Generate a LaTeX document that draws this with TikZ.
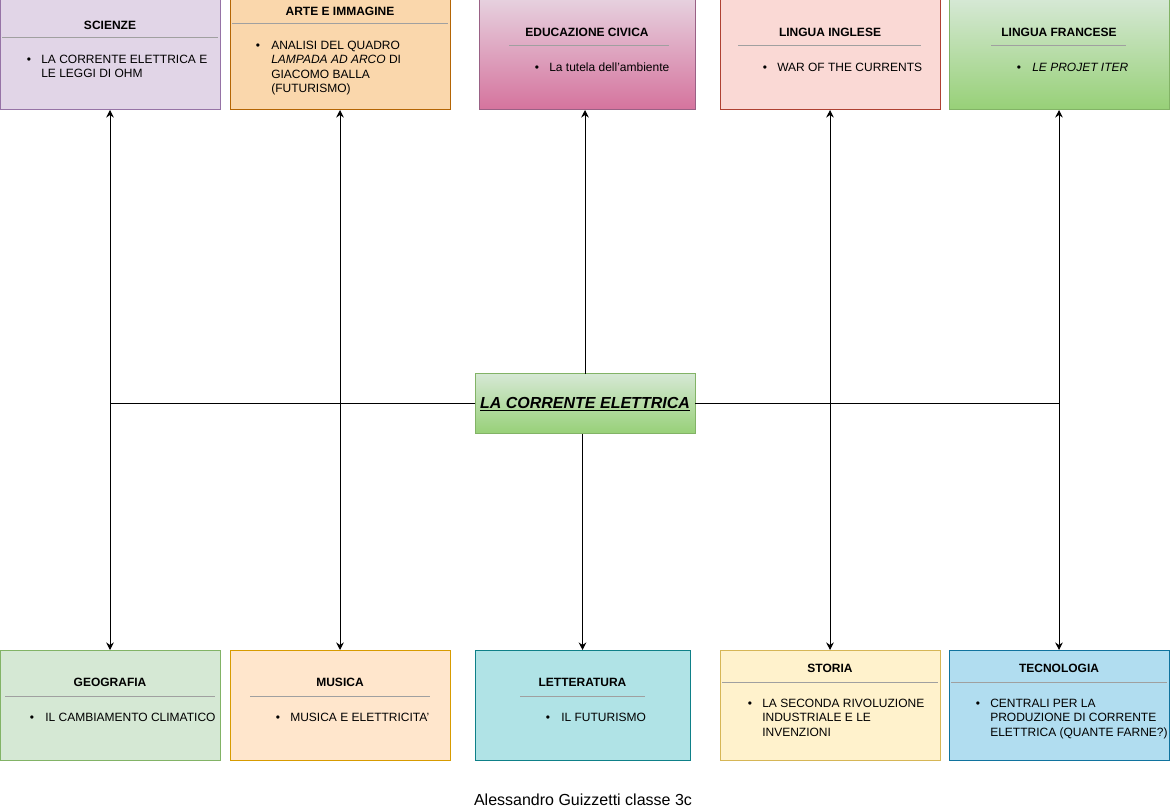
\documentclass[tikz,border=0pt]{standalone}
\usepackage{fontspec}
\setmainfont{Liberation Sans}
\usetikzlibrary{arrows.meta}
\definecolor{sciF}{HTML}{E1D5E7}\definecolor{sciD}{HTML}{9673A6}
\definecolor{artF}{HTML}{FAD7AC}\definecolor{artD}{HTML}{B46504}
\definecolor{eduT}{HTML}{E6D0DE}\definecolor{eduB}{HTML}{D5739D}\definecolor{eduD}{HTML}{996185}
\definecolor{ingF}{HTML}{FAD9D5}\definecolor{ingD}{HTML}{AE4132}
\definecolor{grT}{HTML}{D5E8D4}\definecolor{grB}{HTML}{97D077}\definecolor{grD}{HTML}{82B366}
\definecolor{musF}{HTML}{FFE6CC}\definecolor{musD}{HTML}{D79B00}
\definecolor{letF}{HTML}{B0E3E6}\definecolor{letD}{HTML}{0E8088}
\definecolor{stoF}{HTML}{FFF2CC}\definecolor{stoD}{HTML}{D6B656}
\definecolor{tecF}{HTML}{B1DDF0}\definecolor{tecD}{HTML}{10739E}
\definecolor{ruleC}{HTML}{A0A0A0}
\tikzset{
  box/.style={draw, line width=0.75pt, minimum width=165pt, minimum height=82.5pt, inner sep=0pt, outer sep=0pt},
  hd/.style={font=\bfseries\fontsize{9}{10.9}\selectfont, anchor=base, inner sep=0pt, yshift=-1.1pt},
  tx/.style={font=\fontsize{9}{10.9}\selectfont, anchor=base west, inner sep=0pt, yshift=-1.1pt},
  bl/.style={font=\fontsize{9}{10.9}\selectfont, anchor=base, inner sep=0pt, yshift=-1.1pt},
  hrule/.style={draw=ruleC, line width=0.75pt},
  arr/.style={draw=black, line width=0.75pt, -{Stealth[length=5.6pt,width=5.6pt,inset=1.8pt]}}
}
\begin{document}
\begin{tikzpicture}[x=0.75pt,y=-0.75pt]
\useasboundingbox (0,0) rectangle (1170,812);
% top row boxes
\node[box, fill=sciF, draw=sciD] (sci) at (110,55) {};
\node[box, fill=artF, draw=artD] (arte) at (340,55) {};
\node[box, top color=eduT, bottom color=eduB, draw=eduD, minimum width=162pt] (edu) at (587,55) {};
\node[box, fill=ingF, draw=ingD] (ing) at (830,55) {};
\node[box, top color=grT, bottom color=grB, draw=grD] (fra) at (1059,55) {};
% bottom row boxes
\node[box, fill=grT, draw=grD] (geo) at (110,705) {};
\node[box, fill=musF, draw=musD] (mus) at (340,705) {};
\node[box, fill=letF, draw=letD, minimum width=161.25pt] (lett) at (582.5,705) {};
\node[box, fill=stoF, draw=stoD] (sto) at (830,705) {};
\node[box, fill=tecF, draw=tecD] (tec) at (1059,705) {};
% centre
\node[box, top color=grT, bottom color=grB, draw=grD, minimum height=45pt] (c) at (585,404)
  {\bfseries\itshape\fontsize{12}{14}\selectfont\underline{LA CORRENTE ELETTRICA}};

% SCIENZE
\node[hd] (sciH) at (110,28) {SCIENZE};
\draw[hrule] (2,38) -- (218,38);
\node[bl] (sciB) at (29,62) {•};
\node[tx] (sci1) at (41,62) {LA CORRENTE ELETTRICA E};
\node[tx] (sci2) at (41,76.5) {LE LEGGI DI OHM};
% ARTE
\node[hd] (arteH) at (340,14.5) {ARTE E IMMAGINE};
\draw[hrule] (232,24) -- (448,24);
\node[bl] (arteB) at (258,48) {•};
\node[tx] (arte1) at (271,48) {ANALISI DEL QUADRO};
\node[tx] (arte2) at (271,62.5) {\itshape LAMPADA AD ARCO\upshape\ DI};
\node[tx] (arte3) at (271,77) {GIACOMO BALLA};
\node[tx] (arte4) at (271,91.5) {(FUTURISMO)};
% EDU
\node[hd] (eduH) at (587,35.5) {EDUCAZIONE CIVICA};
\draw[hrule] (509,46) -- (669,46);
\node[bl] (eduB1) at (537,70.5) {•};
\node[tx] (edu1) at (549,70.5) {La tutela dell'ambiente};
% INGLESE
\node[hd] (ingH) at (830,35.5) {LINGUA INGLESE};
\draw[hrule] (738,46) -- (921,46);
\node[bl] (ingB1) at (765,70.5) {•};
\node[tx] (ing1) at (777,70.5) {WAR OF THE CURRENTS};
% FRANCESE
\node[hd] (fraH) at (1059,35.5) {LINGUA FRANCESE};
\draw[hrule] (991,46) -- (1126,46);
\node[bl] (fraB1) at (1019,70.5) {•};
\node[tx] (fra1) at (1032,70.5) {\itshape LE PROJET ITER};
% GEOGRAFIA
\node[hd] (geoH) at (110,685.5) {GEOGRAFIA};
\draw[hrule] (5,696) -- (215,696);
\node[bl] (geoB1) at (32,720.5) {•};
\node[tx] (geo1) at (45,720.5) {IL CAMBIAMENTO CLIMATICO};
% MUSICA
\node[hd] (musH) at (340,685.5) {MUSICA};
\draw[hrule] (250,696) -- (430,696);
\node[bl] (musB1) at (278,720.5) {•};
\node[tx] (mus1) at (290,720.5) {MUSICA E ELETTRICITA'};
% LETTERATURA
\node[hd] (letH) at (582.5,685.5) {LETTERATURA};
\draw[hrule] (520,696) -- (645,696);
\node[bl] (letB1) at (548,720.5) {•};
\node[tx] (let1) at (561,720.5) {IL FUTURISMO};
% STORIA
\node[hd] (stoH) at (830,671.5) {STORIA};
\draw[hrule] (722,682) -- (938,682);
\node[bl] (stoB1) at (750,706) {•};
\node[tx] (sto1) at (762,706) {LA SECONDA RIVOLUZIONE};
\node[tx] (sto2) at (762,720.5) {INDUSTRIALE E LE};
\node[tx] (sto3) at (762,735) {INVENZIONI};
% TECNOLOGIA
\node[hd] (tecH) at (1059,671.5) {TECNOLOGIA};
\draw[hrule] (951,682) -- (1167,682);
\node[bl] (tecB1) at (978,706) {•};
\node[tx] (tec1) at (990,706) {CENTRALI PER LA};
\node[tx] (tec2) at (990,720.5) {PRODUZIONE DI CORRENTE};
\node[tx] (tec3) at (990,735) {ELETTRICA (QUANTE FARNE?)};

% connectors
\draw[arr] (c.north) -- (c.north |- edu.south);
\draw[arr] (c.west) -| (sci.south);
\draw[arr] (c.west) -| (geo.north);
\draw[arr] (c.west) -| (arte.south);
\draw[arr] (c.west) -| (mus.north);
\draw[arr] (c.east) -| (fra.south);
\draw[arr] (c.east) -| (tec.north);
\draw[arr] (c.east) -| (ing.south);
\draw[arr] (c.east) -| (sto.north);
\draw[arr] (c.south -| lett.north) -- (lett.north);

% caption
\node[font=\fontsize{12}{14}\selectfont, anchor=base, inner sep=0pt] (cap) at (583,805) {Alessandro Guizzetti classe 3c};
\end{tikzpicture}
\end{document}
